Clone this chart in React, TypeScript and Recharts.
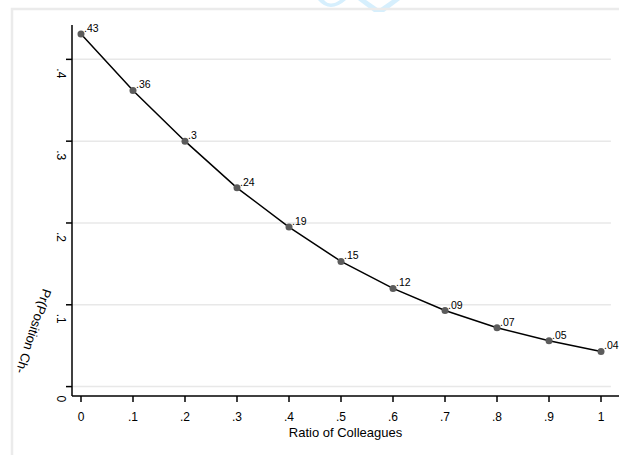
import React from 'react';
import { LineChart, Line, XAxis, YAxis, ReferenceLine, LabelList, Customized } from 'recharts';

// values
const ratios = [0, 0.1, 0.2, 0.3, 0.4, 0.5, 0.6, 0.7, 0.8, 0.9, 1];
const probs = [0.431, 0.362, 0.3, 0.243, 0.195, 0.153, 0.12, 0.093, 0.072, 0.056, 0.043];
const pointLabels = ['.43', '.36', '.3', '.24', '.19', '.15', '.12', '.09', '.07', '.05', '.04'];
const xTickLabels = ['0', '.1', '.2', '.3', '.4', '.5', '.6', '.7', '.8', '.9', '1'];
const yTicks = [0, 0.1, 0.2, 0.3, 0.4];
const yTickLabels = ['0', '.1', '.2', '.3', '.4'];

const data = ratios.map((r, i) => ({ ratio: r, prob: probs[i], label: pointLabels[i] }));

const FONT = '"Liberation Sans", Arial, sans-serif';

const YTick = (props: any) => {
  const { y, payload } = props;
  const idx = yTicks.indexOf(payload.value);
  const ty = y + 9;
  return (
    <text x={61} y={ty} transform={`rotate(90, 61, ${ty})`} textAnchor="start" dominantBaseline="central"
      fontSize={12} fill="#000" fontFamily={FONT}>
      {yTickLabels[idx] ?? payload.value}
    </text>
  );
};

const PointLabel = (props: any) => {
  const { x, y, value } = props;
  return (
    <text x={x + 3} y={y - 2} fontSize={10.5} fill="#000" fontFamily={FONT}>{value}</text>
  );
};

// frame, faint watermark at the top edge, and the slanted y title
const Decor = () => (
  <g>
    <path d="M318,0 Q330,14 346,0 L340,0 Q330,7 324,0 Z" fill="#d6effd" />
    <path d="M358,0 L366,0 L379,9 L392,0 L400,0 L384,12 L374,12 Z" fill="#d6effd" />
    <rect x={12} y={9} width={640} height={480} fill="none" stroke="#ebebeb" strokeWidth={2.5} />
    <text x={43} y={288} transform="rotate(108, 43, 288)" fontSize={13} fill="#000" fontFamily={FONT}>
      Pr(Position Ch-
    </text>
  </g>
);

const App = () => (
  <div style={{ position: 'absolute', left: 0, top: 0, background: '#fff', fontFamily: FONT }}>
    <LineChart width={619} height={455} data={data} margin={{ top: 25, right: 0, bottom: 0, left: 0 }}>
      <Customized component={Decor} />
      {yTicks.map((t) => (
        <ReferenceLine key={t} segment={[{ x: -0.0173, y: t }, { x: 1.019, y: t }]}
          stroke="#e8e8e8" strokeWidth={1.5} ifOverflow="extendDomain" />
      ))}
      <XAxis type="number" dataKey="ratio" domain={[-0.0173, 1.0346]} ticks={ratios} allowDataOverflow
        tickFormatter={(v: number) => xTickLabels[ratios.indexOf(v)] ?? String(v)}
        height={59} tickSize={6} tickMargin={10}
        axisLine={{ stroke: '#000', strokeWidth: 1.5 }} tickLine={{ stroke: '#000', strokeWidth: 1.5 }}
        tick={{ fill: '#000', fontSize: 12, fontFamily: FONT }}
        label={{ value: 'Ratio of Colleagues', position: 'insideBottom', offset: 18, fill: '#000', fontSize: 13, fontFamily: FONT }} />
      <YAxis type="number" domain={[-0.0115, 0.442]} ticks={yTicks} allowDataOverflow width={72}
        tickSize={6} axisLine={{ stroke: '#000', strokeWidth: 1.5 }} tickLine={{ stroke: '#000', strokeWidth: 1.5 }}
        tick={<YTick />} />
      <Line type="linear" dataKey="prob" stroke="#000" strokeWidth={1.5} isAnimationActive={false}
        dot={{ r: 3.5, fill: '#5c5c5c', stroke: 'none' }} activeDot={false}>
        <LabelList dataKey="label" content={<PointLabel />} />
      </Line>
    </LineChart>
  </div>
);

export default App;
